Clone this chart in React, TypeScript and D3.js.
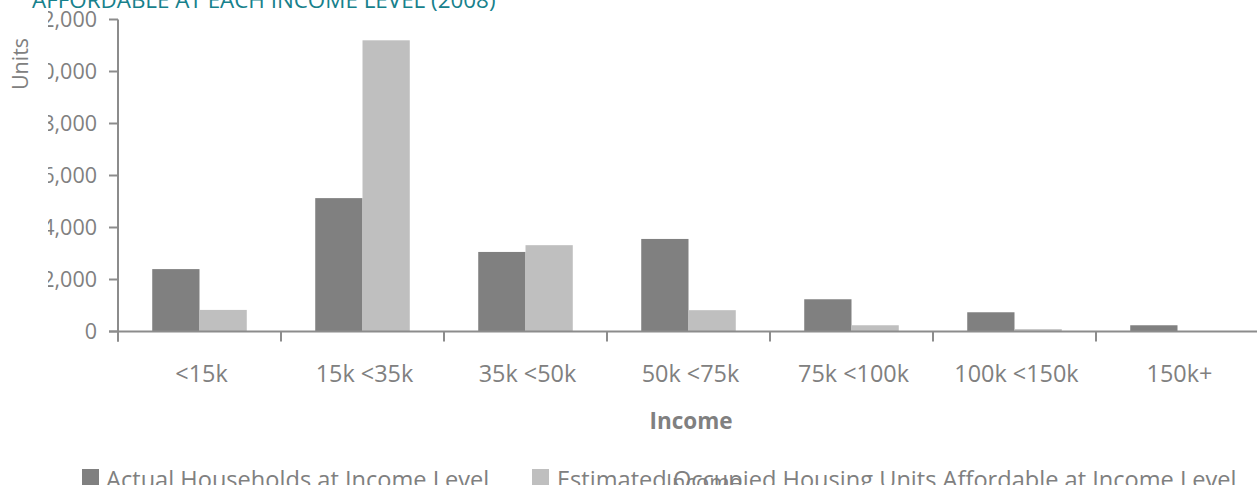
import React from "react";
import * as d3 from "d3";

const categories = ["<15k", "15k <35k", "35k <50k", "50k <75k", "75k <100k", "100k <150k", "150k+"];
const seriesNames = ["Actual Households at Income Level", "Estimated Occupied Housing Units Affordable at Income Level"];
const actualHouseholds = [2400, 5130, 3060, 3560, 1240, 740, 240];
const estimatedUnits = [830, 11200, 3320, 820, 240, 90, 10];
const yTicks = [0, 2000, 4000, 6000, 8000, 10000, 12000];
const seriesColors = ["#808080", "#bfbfbf"];

const W = 1257;
const H = 485;
const FONT = "'Open Sans', 'Noto Sans', sans-serif";
const TEXT = "#808080";
const AXIS = "#8c8c8c";

export default function App() {
  const x0 = d3.scaleBand<string>().domain(categories).range([118, 1259]).paddingInner(0).paddingOuter(0);
  const bw = x0.bandwidth();
  const x1 = d3.scaleBand<string>().domain(["a", "e"]).range([bw * 0.21, bw * 0.79]).padding(0);
  const y = d3.scaleLinear().domain([0, 12000]).range([331.5, 19.5]);
  const fmt = d3.format(",");
  const series = [actualHouseholds, estimatedUnits];
  const keys = ["a", "e"];
  const left = 118;
  const base = y(0);

  return (
    <svg
      width={W}
      height={H}
      viewBox={`0 0 ${W} ${H}`}
      style={{ position: "absolute", left: 0, top: 0, background: "#fff", overflow: "hidden" }}
    >
      <defs>
        <clipPath id="yl">
          <rect x={48} y={0} width={200} height={H} />
        </clipPath>
      </defs>
      <rect x={0} y={0} width={W} height={H} fill="#fff" />
      {/* title (clipped at top) */}
      <text x={32} y={7.5} fill="#17818c" fontFamily={FONT} fontSize={22.4}>
        AFFORDABLE AT EACH INCOME LEVEL (2008)
      </text>
      {/* bars */}
      {series.map((vals, si) =>
        categories.map((c, i) => (
          <rect
            key={`${si}-${i}`}
            x={(x0(c) as number) + (x1(keys[si]) as number)}
            y={y(vals[i])}
            width={x1.bandwidth()}
            height={base - y(vals[i])}
            fill={seriesColors[si]}
          />
        ))
      )}
      {/* y axis */}
      <line x1={left} x2={left} y1={y(12000)} y2={base + 10} stroke={AXIS} strokeWidth={2} />
      {yTicks.map((t) => (
        <line key={t} x1={left - 9} x2={left} y1={y(t)} y2={y(t)} stroke={AXIS} strokeWidth={2} />
      ))}
      <g clipPath="url(#yl)">
        {yTicks.map((t) => (
          <text
            key={t}
            x={97}
            y={y(t) + 7.5}
            textAnchor="end"
            fill={TEXT}
            fontFamily={FONT}
            fontSize={21.5}
          >
            {fmt(t)}
          </text>
        ))}
      </g>
      <text
        transform={`translate(28,64) rotate(-90)`}
        textAnchor="middle"
        fill={TEXT}
        fontFamily={FONT}
        fontSize={21.5}
      >
        Units
      </text>
      {/* x axis */}
      <line x1={left - 9} x2={W} y1={base} y2={base} stroke={AXIS} strokeWidth={2} />
      {categories.map((c) => (
        <line
          key={c}
          x1={x0(c) as number}
          x2={x0(c) as number}
          y1={base}
          y2={base + 10}
          stroke={AXIS}
          strokeWidth={2}
        />
      ))}
      {categories.map((c) => (
        <text
          key={c}
          x={(x0(c) as number) + bw / 2 + 2}
          y={382}
          textAnchor="middle"
          fill={TEXT}
          fontFamily={FONT}
          fontSize={23.4}
        >
          {c}
        </text>
      ))}
      <text x={691} y={429} textAnchor="middle" fill={TEXT} fontFamily={FONT} fontSize={22.5} fontWeight="bold">
        Income
      </text>
      {/* legend */}
      <rect x={82} y={469} width={17} height={17} fill={seriesColors[0]} />
      <text x={106} y={488} fill={TEXT} fontFamily={FONT} fontSize={23.6}>
        {seriesNames[0]}
      </text>
      <rect x={532} y={469} width={17} height={17} fill={seriesColors[1]} />
      <text x={557} y={488} fill={TEXT} fontFamily={FONT} fontSize={23.6}>
        {seriesNames[1]}
      </text>
      <text x={704} y={490} textAnchor="middle" fill={TEXT} fontFamily={FONT} fontSize={22}>
        Income
      </text>
    </svg>
  );
}
